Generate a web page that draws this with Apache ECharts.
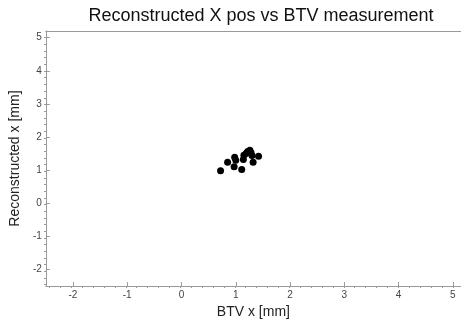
<!DOCTYPE html>
<html>
<head>
<meta charset="utf-8">
<script src="https://cdn.jsdelivr.net/npm/echarts@6/dist/echarts.min.js"></script>
<style>html,body{margin:0;padding:0;background:#fff;}#c{width:461px;height:324px;}</style>
</head>
<body>
<div id="c"></div>
<script>
var titleText = "Reconstructed X pos vs BTV measurement";
var xName = "BTV x [mm]";
var yName = "Reconstructed x [mm]";
var xMajorTicks = [-2, -1, 0, 1, 2, 3, 4, 5];
var yMajorTicks = [-2, -1, 0, 1, 2, 3, 4, 5];
var btvX = [0.72, 0.85, 0.98, 0.97, 1.00, 1.11, 1.15, 1.14, 1.22, 1.26, 1.30, 1.28, 1.32, 1.42, 1.19];
var recoX = [0.98, 1.24, 1.39, 1.10, 1.30, 1.02, 1.45, 1.32, 1.56, 1.60, 1.44, 1.53, 1.24, 1.42, 1.50];

var minorTicks = [];
for (var i = -12; i <= 25; i++) { minorTicks.push(Math.round(i * 0.2 * 10) / 10); }
var points = btvX.map(function (v, i) { return [v, recoX[i]]; });

var lineCol = '#9a9a9a';
var labCol = '#444';
var font = 'Liberation Sans, Arial, sans-serif';
var xMax = 5.15, yMax = 5.2, axMin = -2.5;
var gridBox = { left: 44, top: 31, right: 0, bottom: 36 };

function majorAxis(ticks, isX) {
  return {
    type: 'value', gridIndex: 0, min: axMin, max: isX ? xMax : yMax,
    position: isX ? 'bottom' : 'left',
    name: isX ? xName : yName,
    nameLocation: 'middle',
    nameGap: isX ? 18 : 17,
    nameTextStyle: { color: '#222', fontSize: 14, fontFamily: font },
    axisLine: { show: true, onZero: false, lineStyle: { color: lineCol, width: 1 } },
    axisTick: { show: true, inside: true, length: 4, customValues: ticks, lineStyle: { color: lineCol } },
    axisLabel: { show: true, customValues: ticks, color: labCol, fontSize: 10, fontFamily: font, margin: 4 },
    splitLine: { show: false }
  };
}
function minorAxis(isX) {
  return {
    type: 'value', gridIndex: 1, min: axMin, max: isX ? xMax : yMax,
    position: isX ? 'bottom' : 'left',
    axisLine: { show: false, onZero: false },
    axisTick: { show: true, inside: true, length: 2, customValues: minorTicks.filter(function (v) { return v <= (isX ? xMax : yMax); }), lineStyle: { color: lineCol } },
    axisLabel: { show: false },
    splitLine: { show: false }
  };
}
var topAxis = {
  type: 'value', gridIndex: 0, min: axMin, max: xMax, position: 'top',
  axisLine: { show: true, onZero: false, lineStyle: { color: lineCol, width: 1 } },
  axisTick: { show: false }, axisLabel: { show: false }, splitLine: { show: false }
};

var chart = echarts.init(document.getElementById('c'), null, { renderer: 'canvas' });
chart.setOption({
  animation: false,
  backgroundColor: '#fff',
  title: {
    text: titleText, left: 256, top: 2, textAlign: 'center',
    textStyle: { color: '#111', fontSize: 18, fontWeight: 'normal', fontFamily: font }
  },
  grid: [gridBox, gridBox],
  xAxis: [majorAxis(xMajorTicks, true), topAxis, minorAxis(true)],
  yAxis: [majorAxis(yMajorTicks, false), minorAxis(false)],
  series: [{
    type: 'scatter', xAxisIndex: 0, yAxisIndex: 0,
    data: points, symbolSize: 7,
    itemStyle: { color: '#000', opacity: 1 }
  }]
});
</script>
</body>
</html>
